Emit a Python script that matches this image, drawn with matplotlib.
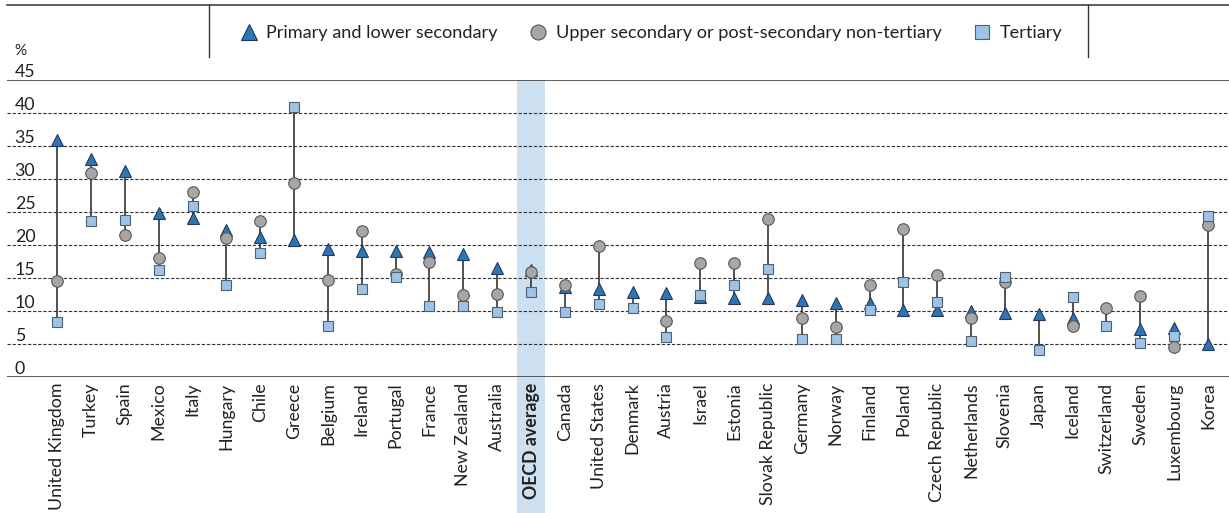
import numpy as np
import matplotlib
matplotlib.use("Agg")
import matplotlib.pyplot as plt
from matplotlib.lines import Line2D

plt.rcParams['font.family'] = ['Lato', 'DejaVu Sans']

countries = ["United Kingdom", "Turkey", "Spain", "Mexico", "Italy", "Hungary", "Chile",
             "Greece", "Belgium", "Ireland", "Portugal", "France", "New Zealand", "Australia",
             "OECD average", "Canada", "United States", "Denmark", "Austria", "Israel",
             "Estonia", "Slovak Republic", "Germany", "Norway", "Finland", "Poland",
             "Czech Republic", "Netherlands", "Slovenia", "Japan", "Iceland", "Switzerland",
             "Sweden", "Luxembourg", "Korea"]

primary = [35.9, 33.1, 31.2, 24.8, 24.1, 22.2, 21.2, 20.8, 19.4, 19.1, 19.1, 19.0, 18.6, 16.5,
           16.2, 13.6, 13.4, 12.9, 12.7, 12.1, 12.0, 11.9, 11.7, 11.2, 11.2, 10.2, 10.1, 10.0,
           9.7, 9.5, 9.0, np.nan, 7.2, 7.4, 5.0]
upper = [14.6, 30.9, 21.5, 18.0, 28.1, 21.1, 23.7, 29.4, 14.7, 22.1, 15.6, 17.4, 12.5, 12.6,
         15.9, 13.9, 19.8, np.nan, 8.5, 17.2, 17.3, 24.0, 9.0, 7.6, 13.9, 22.4, 15.5, 8.9,
         14.4, np.nan, 7.8, 10.5, 12.3, 4.5, 23.0]
tertiary = [8.3, 23.7, 23.8, 16.2, 25.9, 13.9, 18.8, 40.9, 7.8, 13.3, 15.2, 10.8, 10.8, 9.8,
            12.9, 9.8, 11.0, 10.5, 6.0, 12.4, 14.0, 16.4, 5.8, 5.8, 10.1, 14.4, 11.3, 5.4,
            15.2, 4.1, 12.1, 7.7, 5.2, 6.2, 24.4]

yticks = [0, 5, 10, 15, 20, 25, 30, 35, 40, 45]

W, H = 1229, 513
fig = plt.figure(figsize=(W / 100, H / 100), dpi=100)
ax = fig.add_axes([7 / W, 1 - 377 / H, 1 - 7 / W, (377 - 80) / H])

x = np.arange(len(countries))
p = np.array(primary, dtype=float)
u = np.array(upper, dtype=float)
t = np.array(tertiary, dtype=float)
allv = np.vstack([p, u, t])
lo = np.nanmin(allv, axis=0)
hi = np.nanmax(allv, axis=0)

ax.set_xlim(-1.48, len(countries) - 1 + 0.62)
ax.set_ylim(0, 45)

# OECD highlight band
oecd_idx = countries.index("OECD average")
ax.axvspan(oecd_idx - 0.42, oecd_idx + 0.42, ymin=-0.46, ymax=1, color="#cce0f0",
           zorder=0, clip_on=False, lw=0)

# gridlines
for yv in yticks:
    if yv in (0, 45):
        ax.axhline(yv, color="#333333", lw=1.1, zorder=1)
    else:
        ax.axhline(yv, color="#333333", lw=0.8, ls=(0, (3, 1.6)), zorder=1)

ax.vlines(x, lo, hi, color="#333333", lw=1.2, zorder=2)

tri_kw = dict(marker="^", ms=8.5, mfc="#2e75b6", mec="#1f3a5c", mew=0.8, ls="none")
cir_kw = dict(marker="o", ms=8.3, mfc="#a6a6a6", mec="#555555", mew=0.8, ls="none")
sq_kw = dict(marker="s", ms=7.8, mfc="#9dc3e6", mec="#4f5f70", mew=0.8, ls="none")

ax.plot(x, p, zorder=3, label="Primary and lower secondary", **tri_kw)
ax.plot(x, u, zorder=4, label="Upper secondary or post-secondary non-tertiary", **cir_kw)
ax.plot(x, t, zorder=5, label="Tertiary", **sq_kw)

for s in ax.spines.values():
    s.set_visible(False)

ax.set_xticks(x)
ax.set_xticklabels(countries, rotation=90, fontsize=12.8, color="#222222")
ax.tick_params(axis="x", length=0, pad=4)
for lab in ax.get_xticklabels():
    if lab.get_text() == "OECD average":
        lab.set_fontweight("bold")

ax.set_yticks(yticks)
ax.set_yticklabels([str(v) for v in yticks], fontsize=12.8, color="#222222")
ax.tick_params(axis="y", length=0, pad=-5.5)
plt.setp(ax.get_yticklabels(), ha="left", va="bottom")

fig.text(14 / W, 1 - 58 / H, "%", fontsize=11, color="#222222", ha="left", va="bottom")

# legend
handles = [Line2D([], [], **tri_kw), Line2D([], [], **cir_kw), Line2D([], [], **sq_kw)]
labels = ["Primary and lower secondary", "Upper secondary or post-secondary non-tertiary", "Tertiary"]
leg = fig.legend(handles, labels, ncol=3, frameon=False, loc="center",
                 bbox_to_anchor=(651 / W, 1 - 33 / H), fontsize=13.1, markerscale=1.3,
                 handlelength=1.0, handletextpad=0.45, columnspacing=1.75)
for txt in leg.get_texts():
    txt.set_color("#222222")

fig.add_artist(Line2D([7 / W, 1], [1 - 5 / H, 1 - 5 / H], transform=fig.transFigure,
                      color="#333333", lw=1.1))
for xv in (209, 1088):
    fig.add_artist(Line2D([xv / W, xv / W], [1 - 5 / H, 1 - 57 / H], transform=fig.transFigure,
                          color="#333333", lw=1.0))

fig.savefig("out.png", dpi=100)
